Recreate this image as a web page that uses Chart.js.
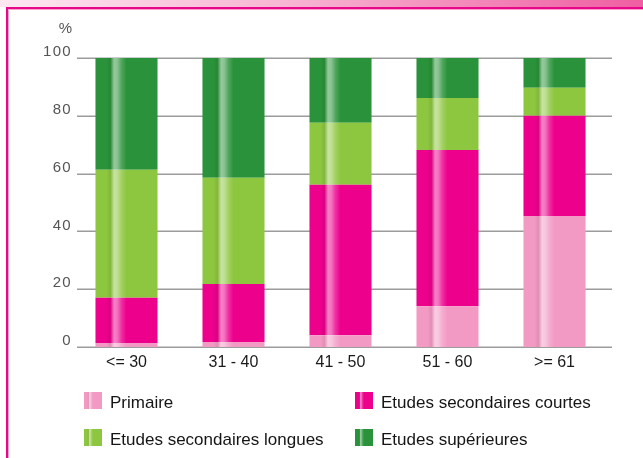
<!DOCTYPE html>
<html>
<head>
<meta charset="utf-8">
<script src="https://cdn.jsdelivr.net/npm/chart.js@4/dist/chart.umd.min.js"></script>
<style>
  html,body{margin:0;padding:0;background:#fff;}
  #wrap{position:relative;width:643px;height:458px;overflow:hidden;font-family:"Liberation Sans",Arial,sans-serif;}
  #band{position:absolute;left:0;top:0;width:643px;height:7px;background:linear-gradient(to right,#fde8f1,#f7b5d2 45%,#ef5ea2);}
  #topline{position:absolute;left:6px;top:7px;width:637px;height:2px;background:#e8068a;}
  #topline2{position:absolute;left:8px;top:9px;width:635px;height:1px;background:#f6a3c9;}
  #leftline{position:absolute;left:6px;top:7px;width:2px;height:451px;background:#e8068a;}
  #leftline2{position:absolute;left:8px;top:9px;width:1px;height:449px;background:#f6a3c9;}
  canvas{position:absolute;left:0;top:0;}
  #pct{position:absolute;left:50px;width:22px;text-align:right;top:20px;font-size:15px;line-height:15px;color:#555;}
  .leg{position:absolute;font-size:17px;line-height:18px;color:#151515;white-space:nowrap;}
  .box{position:absolute;width:18px;height:17px;}
</style>
</head>
<body>
<div id="wrap">
  <div id="band"></div><div id="topline"></div><div id="topline2"></div>
  <div id="leftline"></div><div id="leftline2"></div>
  <canvas id="c" width="643" height="458"></canvas>
  <div id="pct">%</div>
  <div id="legend"></div>
</div>
<script>
// ---- data ----
const categories = ["<= 30", "31 - 40", "41 - 50", "51 - 60", ">= 61"];
const primaire = [1.4, 1.7, 4.1, 14.1, 45.3];
const secCourtes = [15.6, 20.1, 52.0, 54.1, 34.7];
const secLongues = [44.3, 36.8, 21.5, 18.0, 9.7];
const superieures = [38.7, 41.4, 22.4, 13.8, 10.3];
const yTicks = [0, 20, 40, 60, 80, 100];
const seriesNames = ["Primaire", "Etudes secondaires courtes", "Etudes secondaires longues", "Etudes supérieures"];

const colors = ["#f39ac4", "#ec008c", "#8dc63f", "#2a923a"];

function hexToRgb(h){const n=parseInt(h.slice(1),16);return [(n>>16)&255,(n>>8)&255,n&255];}
function mix(h,t,target){const c=hexToRgb(h);const tg=target==='black'?[0,0,0]:[255,255,255];return 'rgb('+c.map((v,i)=>Math.round(v+(tg[i]-v)*t)).join(',')+')';}
const stops = (base)=>[[0,base],[0.18,base],[0.24,mix(base,0.08,'black')],[0.3,mix(base,0.5)],[0.35,mix(base,0.45)],[0.42,mix(base,0.18)],[0.5,base],[1,base]];

const BAR_PCT = 0.58;
function barFill(base){
  return function(c){
    const chart=c.chart; const area=chart.chartArea;
    if(!area || !chart.scales.x) return base;
    const xs=chart.scales.x;
    const cx=xs.getPixelForValue(c.dataIndex);
    const w=(area.right-area.left)/categories.length*BAR_PCT;
    const g=chart.ctx.createLinearGradient(cx-w/2,0,cx+w/2,0);
    stops(base).forEach(s=>g.addColorStop(s[0],s[1]));
    return g;
  };
}

// legend (HTML)
const legPos=[[84,392],[355,392],[84,429],[355,429]];
const legend=document.getElementById('legend');
seriesNames.forEach((n,i)=>{
  const b=document.createElement('div');b.className='box';
  b.style.left=legPos[i][0]+'px';b.style.top=legPos[i][1]+'px';
  b.style.background='linear-gradient(to right,'+stops(colors[i]).map(s=>s[1]+' '+(s[0]*100)+'%').join(',')+')';
  legend.appendChild(b);
  const t=document.createElement('div');t.className='leg';t.textContent=n;
  t.style.left=(legPos[i][0]+26)+'px';t.style.top=(legPos[i][1]+2)+'px';
  legend.appendChild(t);
});

const gridPlugin={
  id:'gridP',
  beforeDraw(chart){chart.ctx.letterSpacing='0px';},
  beforeDatasetsDraw(chart){
    const ctx=chart.ctx, y=chart.scales.y, area=chart.chartArea;
    ctx.save();
    ctx.strokeStyle='#9c9c9c';ctx.lineWidth=1.5;
    yTicks.forEach(v=>{
      const py=Math.round(y.getPixelForValue(v))+0.25;
      ctx.beginPath();ctx.moveTo(area.left+4,py);ctx.lineTo(area.right+4,py);ctx.stroke();
    });
    ctx.restore();
  },
  afterDatasetsDraw(chart){chart.ctx.letterSpacing='1.3px';},
  afterDraw(chart){chart.ctx.letterSpacing='0px';}
};

new Chart(document.getElementById('c'),{
  type:'bar',
  data:{
    labels:categories,
    datasets:[primaire,secCourtes,secLongues,superieures].map((d,i)=>({
      label:seriesNames[i],data:d,backgroundColor:barFill(colors[i]),borderWidth:0,
      barPercentage:BAR_PCT,categoryPercentage:1
    }))
  },
  options:{
    responsive:false,animation:false,devicePixelRatio:1,
    layout:{padding:{top:58,right:35,left:0,bottom:0}},
    plugins:{legend:{display:false},tooltip:{enabled:false}},
    scales:{
      x:{stacked:true,grid:{display:false,drawTicks:false},border:{display:false},
         ticks:{color:'#1a1a1a',font:{family:'"Liberation Sans", Arial, sans-serif',size:16},padding:6,maxRotation:0},
         afterFit(s){s.height=111;}},
      y:{stacked:true,min:0,max:100,grid:{display:false,drawTicks:false},border:{display:false},
         ticks:{stepSize:20,color:'#555',font:{family:'"Liberation Sans", Arial, sans-serif',size:15},padding:1,labelOffset:-6,z:1},
         afterFit(s){s.width=73;}}
    }
  },
  plugins:[gridPlugin]
});
</script>
</body>
</html>
